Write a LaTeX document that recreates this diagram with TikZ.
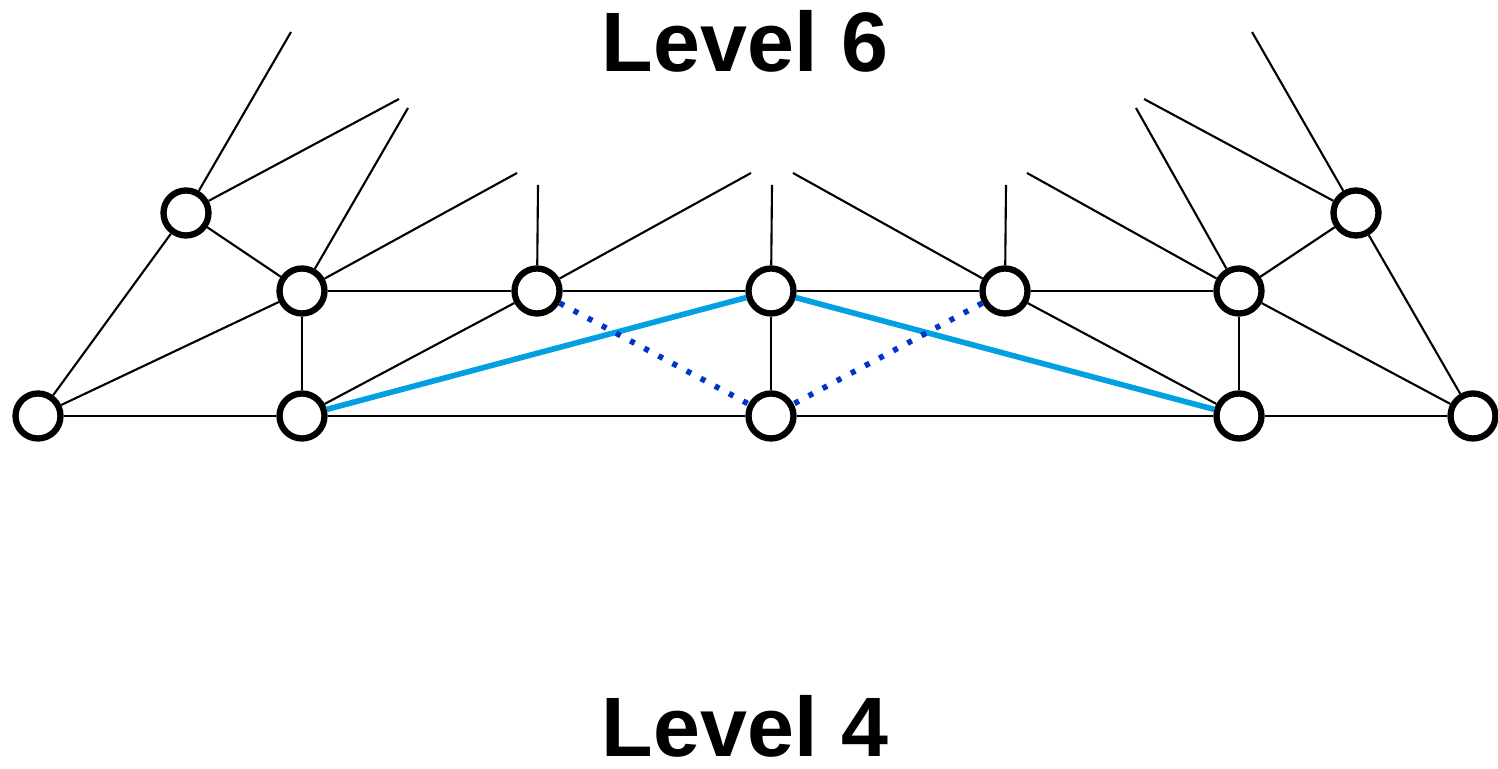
\documentclass[tikz,border=0pt]{standalone}
\usepackage{fontspec}
\setmainfont{Liberation Sans}
\usepackage{xcolor}
\usetikzlibrary{positioning, arrows}
\definecolor{lightblue}{HTML}{00A0E3}
\definecolor{darkblue}{HTML}{0033CC}

\begin{document}
\begin{tikzpicture}[
    vertex/.style={fill=white, minimum size=4.5mm, inner sep=0pt, circle, draw, line width=1.8pt},
    edge/.style={line width=0.6pt},
    pathedge/.style={lightblue, line width=1.6pt},
    skipedge/.style={darkblue, line width=1.6pt, dash pattern=on 0.05cm off 0.11cm},
    levellabel/.style={font=\fontsize{24}{28}\selectfont\bfseries, anchor=base, inner sep=0pt}
  ]
  \useasboundingbox (0,0) rectangle (14.98,-7.69);
  \node[levellabel] (l6) at (7.45,-0.72) {Level 6};
  \node[levellabel] (l4) at (7.45,-7.57) {Level 4};
  % free ends of the upper edges
  \coordinate (f1) at (2.91,-0.32);
  \coordinate (f2) at (3.99,-0.99);
  \coordinate (f3) at (4.08,-1.08);
  \coordinate (f4) at (5.17,-1.73);
  \coordinate (f5) at (5.38,-1.85);
  \coordinate (f6) at (7.51,-1.73);
  \coordinate (f7) at (7.72,-1.85);
  \coordinate (f8) at (7.93,-1.73);
  \coordinate (f9) at (10.06,-1.85);
  \coordinate (f10) at (10.27,-1.73);
  \coordinate (f11) at (11.36,-1.08);
  \coordinate (f12) at (11.44,-0.99);
  \coordinate (f13) at (12.52,-0.32);
  \draw
    (0.38,-4.16) node[vertex] (b1){}
    (3.02,-4.16) node[vertex] (b2){}
    (7.71,-4.16) node[vertex] (b3){}
    (12.39,-4.16) node[vertex] (b4){}
    (14.73,-4.16) node[vertex] (b5){}
    (3.02,-2.91) node[vertex] (m1){}
    (5.37,-2.91) node[vertex] (m2){}
    (7.71,-2.91) node[vertex] (m3){}
    (10.05,-2.91) node[vertex] (m4){}
    (12.39,-2.91) node[vertex] (m5){}
    (1.86,-2.13) node[vertex] (t1){}
    (13.56,-2.13) node[vertex] (t2){};
  \begin{scope}[edge]
    \draw (b1) to (b2);
    \draw (b2) to (b3);
    \draw (b3) to (b4);
    \draw (b4) to (b5);
    \draw (m1) to (m2);
    \draw (m2) to (m3);
    \draw (m3) to (m4);
    \draw (m4) to (m5);
    \draw (b1) to (t1);
    \draw (b1) to (m1);
    \draw (t1) to (m1);
    \draw (m1) to (b2);
    \draw (b2) to (m2);
    \draw (m3) to (b3);
    \draw (m4) to (b4);
    \draw (m5) to (b4);
    \draw (m5) to (b5);
    \draw (t2) to (m5);
    \draw (t2) to (b5);
    \draw (t1) to (f1);
    \draw (t1) to (f2);
    \draw (m1) to (f3);
    \draw (m1) to (f4);
    \draw (m2) to (f5);
    \draw (m2) to (f6);
    \draw (m3) to (f7);
    \draw (m4) to (f8);
    \draw (m4) to (f9);
    \draw (m5) to (f10);
    \draw (m5) to (f11);
    \draw (t2) to (f12);
    \draw (t2) to (f13);
  \end{scope}
  \begin{scope}[-]
    \draw[pathedge] (b2) to (m3);
    \draw[pathedge] (m3) to (b4);
    \draw[skipedge] (m2) to (b3);
    \draw[skipedge] (m4) to (b3);
  \end{scope}
\end{tikzpicture}
\end{document}
